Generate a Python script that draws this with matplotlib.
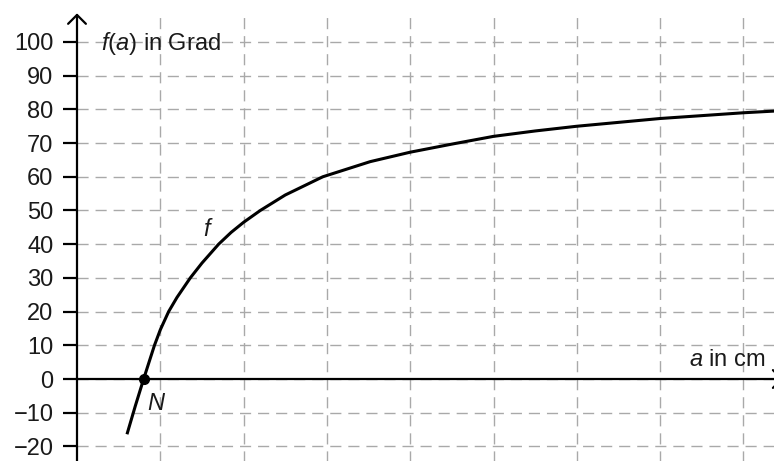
import matplotlib
matplotlib.use("Agg")
import matplotlib.pyplot as plt

plt.rcParams['font.family'] = ['Liberation Sans', 'DejaVu Sans']
plt.rcParams['mathtext.fontset'] = 'custom'
plt.rcParams['mathtext.it'] = 'Liberation Sans:italic'
plt.rcParams['mathtext.rm'] = 'Liberation Sans'

#------------------Data--------------------------------------------
a_cm = [0.60, 0.70, 0.80, 0.87, 0.93, 1.00, 1.10, 1.20, 1.36, 1.50, 1.70,
        1.85, 2.00, 2.20, 2.50, 2.95, 3.52, 4.00, 4.50, 5.00, 5.50, 6.00,
        7.00, 8.00, 8.37]
f_grad = [-16.4, -8.0, 0.0, 5.4, 10.0, 14.6, 20.0, 24.2, 30.0, 34.4, 40.0,
          43.5, 46.5, 50.0, 54.6, 60.0, 64.5, 67.3, 69.7, 72.0, 73.6, 75.0,
          77.3, 79.0, 79.5]
zero_a = 0.80
y_ticks = list(range(-20, 101, 10))
y_ticklabels = [str(v).replace('-', '\u2212') for v in y_ticks]
x_grid = [1, 2, 3, 4, 5, 6, 7, 8]
#------------------------------------------------------------------

ink = '#1a1a1a'
grid_col = '#a9a9a9'

fig = plt.figure(figsize=(7.74, 4.61), dpi=100)
ax = fig.add_axes([77/774, 0, 1 - 77/774, 1])
ax.set_xlim(0, 697/83.3)
ax.set_ylim(-82/3.37, 379/3.37)

for s in ax.spines.values():
    s.set_visible(False)

# dashed grid
for v in y_ticks:
    ax.axhline(v, color=grid_col, lw=1.0, dashes=(8, 5), zorder=1)
ax.vlines(x_grid, -30, 108.3, colors=grid_col, lw=1.0, linestyles=(0, (8, 5)), zorder=1)

# axes with arrows
arrow = '->, head_length=0.4, head_width=0.4'
ax.annotate('', xy=(0, 108.5), xytext=(0, -30),
            arrowprops=dict(arrowstyle=arrow, lw=1.6, color='black', mutation_scale=16,
                            shrinkA=0, shrinkB=0), annotation_clip=False, zorder=3)
ax.annotate('', xy=(8.48, 0), xytext=(0, 0),
            arrowprops=dict(arrowstyle=arrow, lw=1.6, color='black', mutation_scale=16,
                            shrinkA=0, shrinkB=0), annotation_clip=False, zorder=3)

ax.set_xticks([])
ax.set_yticks(y_ticks)
ax.set_yticklabels(y_ticklabels, fontsize=17, color=ink)
ax.tick_params(axis='y', length=10, width=1.6, pad=7, color='black')

# curve and zero point
ax.plot(a_cm, f_grad, color='black', lw=2.2, zorder=4, solid_capstyle='butt',
        solid_joinstyle='round')
ax.plot([zero_a], [0], 'o', color='black', ms=7, zorder=5)

ax.text(0.29, 97.6, r'$f$($a$) in Grad', fontsize=17, color=ink, va='baseline', ha='left')
ax.text(8.27, 3.9, r'$a$ in cm', fontsize=17, color=ink, va='baseline', ha='right')
ax.text(1.51, 42.4, r'$f$', fontsize=17, color=ink, va='baseline', ha='left')
ax.text(0.84, -9.2, r'$N$', fontsize=17, color=ink, va='baseline', ha='left')

plt.savefig("out.png", dpi=100)
